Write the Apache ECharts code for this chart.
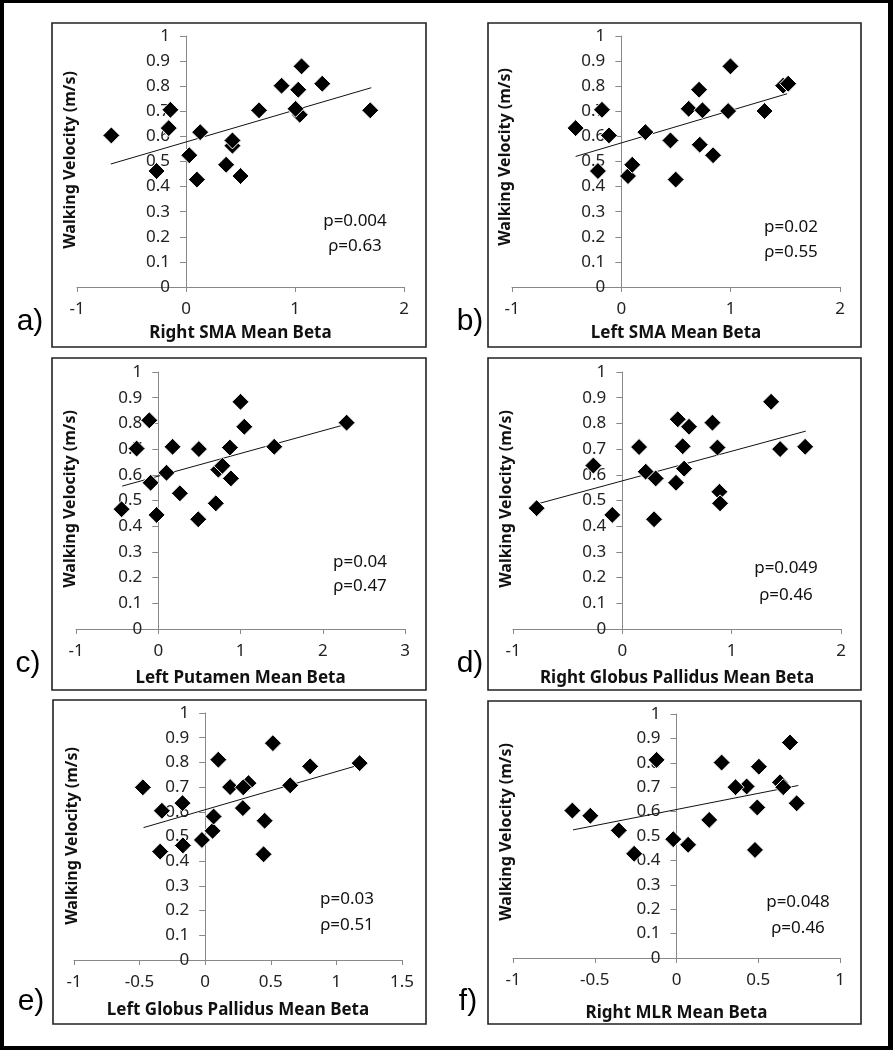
<!DOCTYPE html>
<html>
<head>
<meta charset="utf-8">
<script src="https://cdn.jsdelivr.net/npm/echarts@6/dist/echarts.min.js"></script>
<style>
html,body{margin:0;padding:0;background:#fff;}
#chart{width:893px;height:1050px;}
</style>
</head>
<body>
<div id="chart"></div>
<script>
// ---------- DATA ----------
const panelLetters = ['a)', 'b)', 'c)', 'd)', 'e)', 'f)'];
const xTitles = ['Right SMA Mean Beta', 'Left SMA Mean Beta', 'Left Putamen Mean Beta',
                 'Right Globus Pallidus Mean Beta', 'Left Globus Pallidus Mean Beta', 'Right MLR Mean Beta'];
const yTitle = 'Walking Velocity (m/s)';
const pTexts = ['p=0.004', 'p=0.02', 'p=0.04', 'p=0.049', 'p=0.03', 'p=0.048'];
const rhoTexts = ['\u03c1=0.63', '\u03c1=0.55', '\u03c1=0.47', '\u03c1=0.46', '\u03c1=0.51', '\u03c1=0.46'];
const xMins = [-1, -1, -1, -1, -1, -1];
const xMaxs = [2, 2, 3, 2, 1.5, 1];
const xSteps = [1, 1, 1, 1, 0.5, 0.5];
const yMin = 0, yMax = 1, yStep = 0.1;

const pointsA = [[-0.685,0.604],[-0.27,0.462],[-0.143,0.706],[-0.158,0.633],[0.03,0.525],[0.13,0.617],[0.10,0.428],
  [0.426,0.563],[0.426,0.584],[0.368,0.487],[0.50,0.442],[0.67,0.704],[0.877,0.802],[1.044,0.686],[1.005,0.71],
  [1.03,0.786],[1.06,0.879],[1.25,0.81],[1.69,0.704]];
const pointsB = [[-0.418,0.633],[-0.214,0.462],[-0.177,0.706],[-0.113,0.604],[0.061,0.442],[0.10,0.487],[0.22,0.617],
  [0.449,0.584],[0.497,0.428],[0.616,0.71],[0.711,0.786],[0.742,0.704],[0.717,0.567],[0.839,0.525],[0.977,0.701],
  [0.998,0.879],[1.31,0.701],[1.48,0.802],[1.526,0.81]];
const pointsC = [[-0.446,0.466],[-0.263,0.702],[-0.109,0.812],[-0.093,0.569],[-0.02,0.444],[0.10,0.608],[0.174,0.709],
  [0.263,0.528],[0.494,0.70],[0.486,0.427],[0.70,0.489],[0.73,0.62],[0.78,0.635],[0.871,0.706],[0.883,0.586],
  [1.0,0.884],[1.046,0.787],[1.41,0.709],[2.29,0.803]];
const pointsD = [[-0.784,0.47],[-0.265,0.636],[-0.092,0.444],[0.153,0.708],[0.214,0.612],[0.305,0.586],[0.29,0.427],
  [0.491,0.569],[0.507,0.816],[0.552,0.711],[0.565,0.624],[0.61,0.787],[0.824,0.803],[0.87,0.706],[0.888,0.534],
  [0.894,0.489],[1.361,0.884],[1.443,0.70],[1.672,0.709]];
const pointsE = [[-0.475,0.699],[-0.33,0.604],[-0.343,0.439],[-0.173,0.635],[-0.17,0.464],[-0.025,0.486],[0.056,0.523],
  [0.064,0.581],[0.10,0.811],[0.19,0.70],[0.33,0.716],[0.29,0.699],[0.287,0.615],[0.445,0.428],[0.453,0.564],
  [0.516,0.878],[0.648,0.707],[0.80,0.784],[1.177,0.797]];
const pointsF = [[-0.637,0.604],[-0.527,0.583],[-0.353,0.523],[-0.259,0.427],[-0.122,0.812],[-0.02,0.487],[0.071,0.464],
  [0.20,0.566],[0.276,0.801],[0.429,0.703],[0.361,0.70],[0.504,0.784],[0.494,0.617],[0.48,0.443],[0.633,0.72],
  [0.653,0.70],[0.694,0.883],[0.735,0.634]];

const trendA = [[-0.69,0.49],[1.70,0.794]];
const trendB = [[-0.418,0.52],[1.517,0.77]];
const trendC = [[-0.438,0.556],[2.29,0.797]];
const trendD = [[-0.784,0.486],[1.678,0.77]];
const trendE = [[-0.47,0.536],[1.177,0.79]];
const trendF = [[-0.633,0.525],[0.745,0.707]];

const allPoints = [pointsA, pointsB, pointsC, pointsD, pointsE, pointsF];
const allTrends = [trendA, trendB, trendC, trendD, trendE, trendF];

// ---------- LAYOUT (pixels) ----------
const grids = [
  {left: 77, top: 36, width: 327, height: 251},
  {left: 512, top: 36, width: 328, height: 251},
  {left: 76, top: 372, width: 329, height: 257},
  {left: 513, top: 372, width: 328, height: 257},
  {left: 74, top: 713, width: 328, height: 247},
  {left: 513, top: 714, width: 327, height: 244}
];
const boxes = [
  [52, 23, 374, 324], [488, 23, 373, 324],
  [52, 358, 374, 332], [488, 358, 373, 332],
  [53, 700, 373, 324], [488, 701, 373, 323]
];
const letterPos = [[30, 322], [470, 322], [28, 664], [470, 664], [31, 1002], [468, 1002]];
const statPos = [[355, 221, 246], [791, 227, 252], [360, 562, 586], [786, 568, 595], [347, 899, 925], [798, 902, 928]];
const yTitlePos = [[70, 160], [505, 157], [70, 499], [506, 499], [72, 836], [506, 832]];
const xNameGaps = [38, 38, 41, 41, 42, 47];

const FONT = '"Noto Sans", "Open Sans", sans-serif';

const chart = echarts.init(document.getElementById('chart'), null, {renderer: 'canvas'});

const xAxes = [], yAxes = [], series = [], graphic = [];
grids.forEach(function (g, i) {
  // y axis sits at x = 0 of the x scale: shift it (with its labels) right from the grid's left edge
  const zeroShift = g.width * (0 - xMins[i]) / (xMaxs[i] - xMins[i]);
  xAxes.push({
    type: 'value', gridIndex: i, min: xMins[i], max: xMaxs[i], interval: xSteps[i],
    name: xTitles[i], nameLocation: 'middle', nameGap: xNameGaps[i],
    nameTextStyle: {fontFamily: FONT, fontWeight: 'bold', fontSize: 17, color: '#111'},
    axisLine: {onZero: false, lineStyle: {color: '#888', width: 1}},
    axisTick: {show: true, length: 5, lineStyle: {color: '#888'}},
    axisLabel: {fontFamily: FONT, fontSize: 17, color: '#222', margin: 14},
    splitLine: {show: false}
  });
  yAxes.push({
    type: 'value', gridIndex: i, min: yMin, max: yMax, interval: yStep,
    position: 'left', offset: -zeroShift,
    axisLine: {onZero: false, lineStyle: {color: '#888', width: 1}},
    axisTick: {show: true, length: 6, lineStyle: {color: '#888'}},
    axisLabel: {fontFamily: FONT, fontSize: 17, color: '#222', margin: 16},
    splitLine: {show: false}
  });
  series.push({
    type: 'line', xAxisIndex: i, yAxisIndex: i, data: allTrends[i], symbol: 'none',
    lineStyle: {color: '#111', width: 1}, silent: true, z: 2
  });
  series.push({
    type: 'scatter', xAxisIndex: i, yAxisIndex: i, data: allPoints[i], symbol: 'diamond', symbolSize: 17,
    itemStyle: {color: '#000', borderColor: '#fff', borderWidth: 1, opacity: 1}, z: 3
  });
  const b = boxes[i];
  graphic.push({type: 'rect', shape: {x: b[0], y: b[1], width: b[2], height: b[3]},
    style: {fill: 'none', stroke: '#222', lineWidth: 1.6}, silent: true, z: 1});
  graphic.push({type: 'text', x: letterPos[i][0], y: letterPos[i][1],
    style: {text: panelLetters[i], font: '30px "Liberation Sans", Arial, sans-serif', fill: '#000', align: 'center', verticalAlign: 'middle'}});
  graphic.push({type: 'text', x: statPos[i][0], y: statPos[i][1],
    style: {text: pTexts[i], font: '17px ' + FONT, fill: '#111', align: 'center', verticalAlign: 'middle'}});
  graphic.push({type: 'text', x: statPos[i][0], y: statPos[i][2],
    style: {text: rhoTexts[i], font: '17px ' + FONT, fill: '#111', align: 'center', verticalAlign: 'middle'}});
  graphic.push({type: 'text', x: yTitlePos[i][0], y: yTitlePos[i][1], rotation: Math.PI / 2,
    style: {text: yTitle, font: 'bold 16px ' + FONT, fill: '#111', align: 'center', verticalAlign: 'middle'}});
});
// outer black frame
graphic.push({type: 'rect', shape: {x: 0, y: 0, width: 893, height: 3}, style: {fill: '#000'}, silent: true});
graphic.push({type: 'rect', shape: {x: 0, y: 0, width: 4, height: 1050}, style: {fill: '#000'}, silent: true});
graphic.push({type: 'rect', shape: {x: 888, y: 0, width: 5, height: 1050}, style: {fill: '#000'}, silent: true});
graphic.push({type: 'rect', shape: {x: 0, y: 1046, width: 893, height: 4}, style: {fill: '#000'}, silent: true});

chart.setOption({
  animation: false,
  backgroundColor: '#fff',
  grid: grids.map(function (g) { return Object.assign({outerBoundsMode: 'none'}, g); }),
  xAxis: xAxes,
  yAxis: yAxes,
  series: series,
  graphic: graphic
});
</script>
</body>
</html>
